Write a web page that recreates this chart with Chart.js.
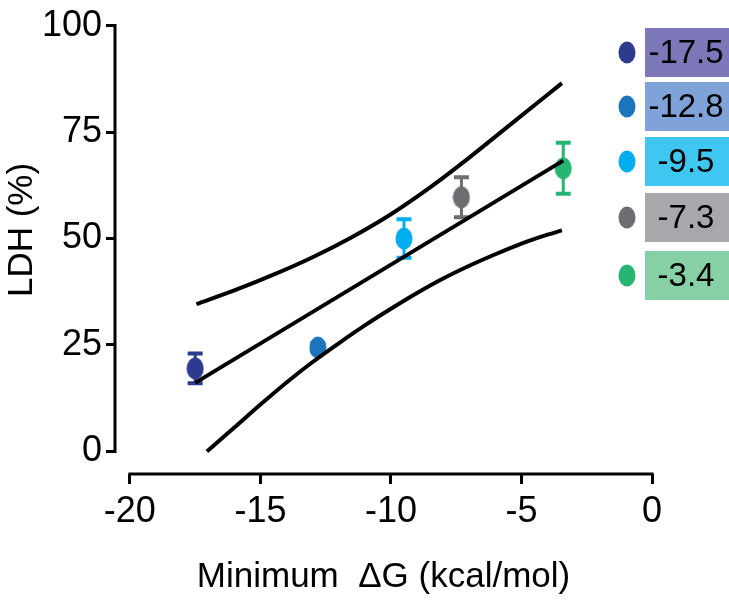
<!DOCTYPE html>
<html>
<head>
<meta charset="utf-8">
<script src="https://cdn.jsdelivr.net/npm/chart.js@4/dist/chart.umd.min.js"></script>
<style>
  body { margin: 0; background: #fff; }
  canvas { display: block; }
</style>
</head>
<body>
<canvas id="ldhChart" width="729" height="602"></canvas>
<script>
// Data
const dgValues = [-17.5, -12.8, -9.5, -7.3, -3.4];
const ldhValues = [19.5, 24.4, 50.0, 59.7, 66.5];
const ldhErrors = [3.5, 1.0, 4.5, 4.7, 6.0];
const legendLabels = ['-17.5', '-12.8', '-9.5', '-7.3', '-3.4'];

// Regression line and 95% band
const fitX = [-17.5, -3.4];
const fitY = [16.1, 68.3];
const upperX = [-17.45, -16, -14.5, -13, -11.5, -10, -8.5, -7, -5.5, -3.45];
const upperY = [34.6, 37.8, 41.5, 45.6, 50.3, 55.7, 62.0, 69.0, 76.4, 86.5];
const lowerX = [-17.05, -16, -15, -14, -13, -12, -11, -10, -9, -8, -7, -6, -5, -4, -3.45];
const lowerY = [0, 5.6, 11.0, 16.2, 21.0, 25.4, 29.6, 33.5, 37.2, 40.6, 43.6, 46.3, 48.8, 50.9, 51.9];

// Tick labels
const xTicks = [-20, -15, -10, -5, 0];
const yTicks = [0, 25, 50, 75, 100];

// Colours
const pointColors = ['#2d3a8e', '#1c75bc', '#00aeef', '#6d6e71', '#27b574'];
const boxColors = ['#7c78b9', '#7fa3d8', '#3fc7f1', '#a7a8ab', '#87cfa4'];

const FONT = "'Liberation Sans', Arial, sans-serif";

// Ellipse marker images (slightly taller than wide)
function makeEllipse(color) {
    const c = document.createElement('canvas');
    c.width = 18;
    c.height = 23;
    const g = c.getContext('2d');
    g.fillStyle = color;
    g.beginPath();
    g.ellipse(9, 11.5, 8.5, 11, 0, 0, Math.PI * 2);
    g.fill();
    return c;
}
const markers = pointColors.map(makeEllipse);

const toPoints = (xs, ys) => xs.map((x, i) => ({ x: x, y: ys[i] }));

// Error bars, drawn under the markers
const errorBars = {
    id: 'errorBars',
    beforeDatasetsDraw(chart) {
        const ctx = chart.ctx;
        const xs = chart.scales.x;
        const ys = chart.scales.y;
        ctx.save();
        dgValues.forEach((x, i) => {
            const px = xs.getPixelForValue(x);
            const top = ys.getPixelForValue(ldhValues[i] + ldhErrors[i]);
            const bot = ys.getPixelForValue(ldhValues[i] - ldhErrors[i]);
            ctx.strokeStyle = pointColors[i];
            ctx.lineWidth = 3;
            ctx.beginPath();
            ctx.moveTo(px, top);
            ctx.lineTo(px, bot);
            ctx.stroke();
            ctx.lineWidth = 4;
            ctx.beginPath();
            ctx.moveTo(px - 7.5, top);
            ctx.lineTo(px + 7.5, top);
            ctx.moveTo(px - 7.5, bot);
            ctx.lineTo(px + 7.5, bot);
            ctx.stroke();
        });
        ctx.restore();
    }
};

// Offset axis lines (Prism style) and the y title
const axisLines = {
    id: 'axisLines',
    afterDraw(chart) {
        const ctx = chart.ctx;
        const xs = chart.scales.x;
        const ys = chart.scales.y;
        const area = chart.chartArea;
        ctx.save();
        ctx.strokeStyle = '#000';
        ctx.lineWidth = 3;
        ctx.lineCap = 'square';
        ctx.beginPath();
        ctx.moveTo(area.left, ys.getPixelForValue(yTicks[0]));
        ctx.lineTo(area.left, ys.getPixelForValue(yTicks[yTicks.length - 1]));
        ctx.moveTo(xs.getPixelForValue(xTicks[0]), area.bottom);
        ctx.lineTo(xs.getPixelForValue(xTicks[xTicks.length - 1]), area.bottom);
        ctx.stroke();

        ctx.translate(22, ys.getPixelForValue(52));
        ctx.rotate(-Math.PI / 2);
        ctx.fillStyle = '#000';
        ctx.font = '35px ' + FONT;
        ctx.textAlign = 'center';
        ctx.textBaseline = 'middle';
        ctx.fillText('LDH (%)', 0, 0);
        ctx.restore();
    }
};

// Colour-key on the right
const sideLegend = {
    id: 'sideLegend',
    afterDraw(chart) {
        const ctx = chart.ctx;
        const boxTops = [28, 82, 137, 193, 251];
        ctx.save();
        legendLabels.forEach((label, i) => {
            const top = boxTops[i];
            ctx.fillStyle = boxColors[i];
            ctx.fillRect(645, top, 84, 49);
            ctx.drawImage(markers[i], 618, top + 13);
            ctx.fillStyle = '#000';
            ctx.font = '33px ' + FONT;
            ctx.textAlign = 'center';
            ctx.textBaseline = 'middle';
            ctx.fillText(label, 686, top + 26);
        });
        ctx.restore();
    }
};

const tickFont = { family: FONT, size: 36 };

new Chart(document.getElementById('ldhChart'), {
    type: 'scatter',
    data: {
        datasets: [
            {
                type: 'line',
                data: toPoints(fitX, fitY),
                borderColor: '#000',
                borderWidth: 4,
                pointRadius: 0,
                order: 0
            },
            {
                type: 'line',
                data: toPoints(upperX, upperY),
                borderColor: '#000',
                borderWidth: 4,
                pointRadius: 0,
                cubicInterpolationMode: 'monotone',
                order: 0
            },
            {
                type: 'line',
                data: toPoints(lowerX, lowerY),
                borderColor: '#000',
                borderWidth: 4,
                pointRadius: 0,
                cubicInterpolationMode: 'monotone',
                order: 0
            },
            {
                data: toPoints(dgValues, ldhValues),
                pointStyle: markers,
                backgroundColor: pointColors,
                order: 1
            }
        ]
    },
    options: {
        responsive: false,
        animation: false,
        layout: { padding: { top: 18, right: 77, left: 0, bottom: 0 } },
        plugins: {
            legend: { display: false },
            tooltip: { enabled: false }
        },
        scales: {
            x: {
                type: 'linear',
                min: -20.57,
                max: 0,
                afterFit: s => { s.height = 128; },
                afterBuildTicks: s => { s.ticks = xTicks.map(v => ({ value: v })); },
                grid: { drawOnChartArea: false, color: '#000', lineWidth: 3, tickLength: 10 },
                border: { display: false },
                ticks: { font: tickFont, color: '#000', padding: 6, maxRotation: 0 },
                title: {
                    display: true,
                    text: 'Minimum  \u0394G (kcal/mol)',
                    font: { family: FONT, size: 35 },
                    color: '#000',
                    padding: { top: 12 }
                }
            },
            y: {
                type: 'linear',
                min: -5.3,
                max: 100,
                afterFit: s => { s.width = 115; },
                afterBuildTicks: s => { s.ticks = yTicks.map(v => ({ value: v })); },
                grid: { drawOnChartArea: false, color: '#000', lineWidth: 3, tickLength: 9 },
                border: { display: false },
                ticks: { font: tickFont, color: '#000', padding: 4 }
            }
        }
    },
    plugins: [errorBars, axisLines, sideLegend]
});
</script>
</body>
</html>
